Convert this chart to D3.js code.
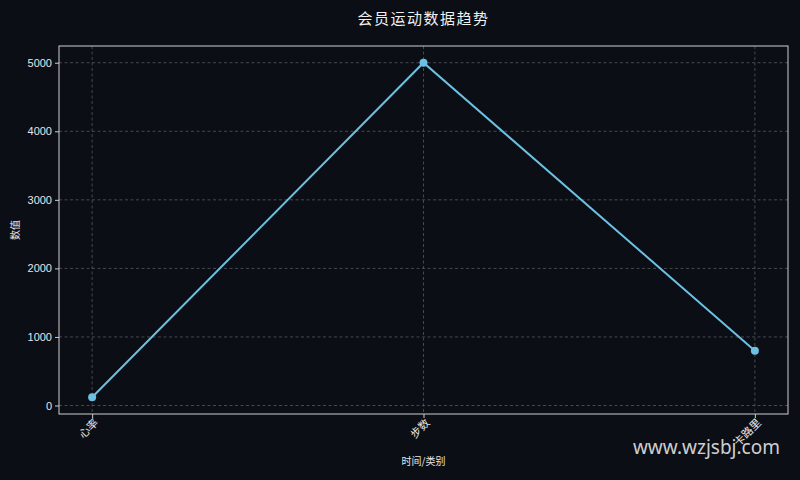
<!DOCTYPE html>
<html>
<head>
<meta charset="utf-8">
<script src="https://cdn.jsdelivr.net/npm/d3@7/dist/d3.min.js"></script>
<style>
  html, body { margin: 0; padding: 0; background: #0b0e15; }
  svg { display: block; }
</style>
</head>
<body>
<div id="chart"></div>
<script>
// data
var categories = ["心率", "步数", "卡路里"]
var values = [120, 5000, 800]
var yTicks = [0, 1000, 2000, 3000, 4000, 5000]

var W = 800, H = 480
var margin = {top: 46, right: 12, bottom: 66, left: 59},
    width = W - margin.left - margin.right,
    height = H - margin.top - margin.bottom

var font = "'Noto Sans CJK SC', 'Noto Sans', sans-serif"

var svg = d3.select("#chart")
    .append("svg")
    .attr("width", W)
    .attr("height", H)
    .style("background", "#0b0e15")

var g = svg.append("g")
    .attr("transform", "translate(" + margin.left + "," + margin.top + ")")

// matplotlib style padding: 0.1 category on each side, 5% on y
var x = d3.scaleLinear()
    .domain([-0.1, categories.length - 1 + 0.1])
    .range([0, width])

var ext = d3.extent(values)
var pad = (ext[1] - ext[0]) * 0.05
var y = d3.scaleLinear()
    .domain([ext[0] - pad, ext[1] + pad])
    .range([height, 0])

// grid
g.append("g")
    .selectAll("line")
    .data(yTicks)
    .enter()
    .append("line")
    .attr("x1", 0).attr("x2", width)
    .attr("y1", function(d) { return y(d) })
    .attr("y2", function(d) { return y(d) })
    .attr("stroke", "#55585e")
    .attr("stroke-width", 0.8)
    .attr("stroke-dasharray", "3,2.5")

g.append("g")
    .selectAll("line")
    .data(categories)
    .enter()
    .append("line")
    .attr("x1", function(d, i) { return x(i) })
    .attr("x2", function(d, i) { return x(i) })
    .attr("y1", 0).attr("y2", height)
    .attr("stroke", "#55585e")
    .attr("stroke-width", 0.8)
    .attr("stroke-dasharray", "3,2.5")

// axes
var yAxis = g.append("g")
    .call(d3.axisLeft(y).tickValues(yTicks).tickFormat(d3.format("d")).tickSize(4).tickPadding(3))
var xAxis = g.append("g")
    .attr("transform", "translate(0," + height + ")")
    .call(d3.axisBottom(x)
        .tickValues(d3.range(categories.length))
        .tickFormat(function(i) { return categories[i] })
        .tickSize(4).tickPadding(4))

yAxis.select(".domain").remove()
xAxis.select(".domain").remove()
g.selectAll(".tick line").attr("stroke", "#cfcfcf")
yAxis.selectAll(".tick text")
    .attr("fill", "#e6e6e6")
    .style("font-family", "'Liberation Sans', Arial, sans-serif")
    .style("font-size", "11px")

xAxis.selectAll(".tick text")
    .attr("fill", "#e6e6e6")
    .style("font-family", font)
    .attr("text-anchor", "end")
    .attr("dx", "-0.2em")
    .attr("dy", "0.3em")
    .attr("transform", "rotate(-45)")
    .style("font-size", "11px")

// frame
g.append("rect")
    .attr("width", width)
    .attr("height", height)
    .attr("fill", "none")
    .attr("stroke", "#cfcfcf")
    .attr("stroke-width", 1)

// line + markers
var line = d3.line()
    .x(function(d, i) { return x(i) })
    .y(function(d) { return y(d) })

g.append("path")
    .datum(values)
    .attr("d", line)
    .attr("fill", "none")
    .attr("stroke", "#6cc0e2")
    .attr("stroke-width", 2)

g.selectAll(".dot")
    .data(values)
    .enter()
    .append("circle")
    .attr("cx", function(d, i) { return x(i) })
    .attr("cy", function(d) { return y(d) })
    .attr("r", 4)
    .attr("fill", "#6cc0e2")

// texts
svg.append("text")
    .attr("x", margin.left + width / 2)
    .attr("y", 24)
    .attr("text-anchor", "middle")
    .attr("fill", "#f0f0f0")
    .style("font-family", font)
    .style("font-size", "15px")
    .style("letter-spacing", "1.5px")
    .text("会员运动数据趋势")

svg.append("text")
    .attr("x", margin.left + width / 2)
    .attr("y", 465)
    .attr("text-anchor", "middle")
    .attr("fill", "#e6e6e6")
    .style("font-family", font)
    .style("font-size", "10px")
    .text("时间/类别")

svg.append("text")
    .attr("transform", "translate(19," + (margin.top + height / 2) + ") rotate(-90)")
    .attr("text-anchor", "middle")
    .attr("fill", "#e6e6e6")
    .style("font-family", font)
    .style("font-size", "10px")
    .text("数值")

// watermark
svg.append("text")
    .attr("x", 780)
    .attr("y", 454)
    .attr("text-anchor", "end")
    .attr("fill", "#e8e8e8")
    .attr("fill-opacity", 0.9)
    .style("font-family", "'Noto Sans', sans-serif")
    .style("font-size", "19px")
    .text("www.wzjsbj.com")
</script>
</body>
</html>
